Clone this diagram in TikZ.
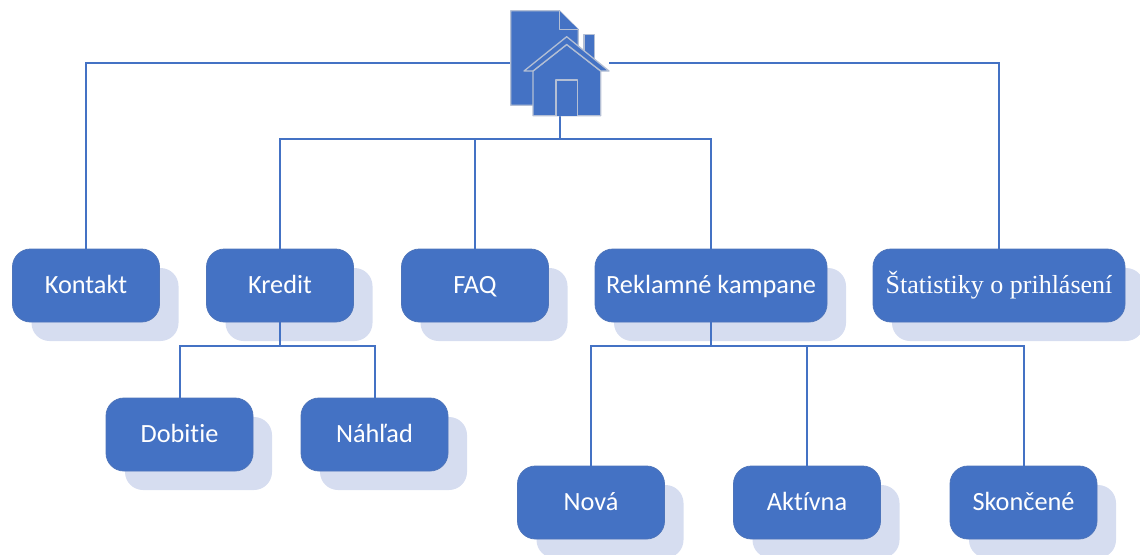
\documentclass[tikz,border=0pt]{standalone}
\usepackage{fontspec}
\setmainfont{Carlito}[Ligatures=CommonOff]
\newfontfamily\serifbox{Liberation Serif}
\usetikzlibrary{shadows}
\definecolor{boxblue}{HTML}{4472C4}
\definecolor{boxshade}{HTML}{D6DDF0}
\definecolor{iconedge}{HTML}{B4BFD4}
\tikzset{
	box/.style={fill=boxblue,draw=boxblue!85!gray,line width=.8pt,rounded corners=18pt,text=white,
		minimum height=73pt,inner sep=0pt,text height=21pt,text depth=5pt,font=\fontsize{26.3}{28}\selectfont,
		copy shadow={shadow xshift=19pt,shadow yshift=-19pt,fill=boxshade,draw=none,opacity=1}},
	link/.style={draw=boxblue,line width=2pt},
	icon/.style={fill=boxblue,draw=iconedge,line width=1.3pt,line join=round}
}
\begin{document}
\begin{tikzpicture}[x=1pt,y=-1pt]
	\useasboundingbox (0,0) rectangle (1140,554);
	\foreach \n/\x/\y/\w/\t in {kontakt/86/285.5/147/Kontakt,kredit/280/285.5/147/Kredit,faq/475/285.5/147/FAQ,
		reklama/711/285.5/232/Reklamné kampane,
		dobitie/179.5/434.5/147/Dobitie,nahlad/374.5/434.5/147/Náhľad,
		nova/591/502.5/147/Nová,aktivna/807/502.5/147/Aktívna,skoncene/1023.5/502.5/147/Skončené}
		\node[box,minimum width=\w pt] (\n) at (\x,\y) {\t};
	\node[box,minimum width=252pt,font=\serifbox\fontsize{26}{28}\selectfont] (statistiky) at (999,285.5) {Štatistiky o prihlásení};
	%icon
	\node[minimum width=99pt,minimum height=105pt,inner sep=0pt] (home) at (559.5,63.2) {};
	\draw[link] (home.west) -| (kontakt.north);
	\draw[link] (home.east) -| (statistiky.north);
	\foreach \n in {kredit,faq,reklama} \draw[link] (home.south) -- ++(0,23.5) -| (\n.north);
	\foreach \n in {dobitie,nahlad} \draw[link] (kredit.south) -- ++(0,24) -| (\n.north);
	\foreach \n in {nova,aktivna,skoncene} \draw[link] (reklama.south) -- ++(0,24) -| (\n.north);
	\draw[icon] (584,34.5) rectangle (594.5,62);
	\draw[icon] (510.7,10.7)--(559.3,10.7)--(578.3,29.5)--(578.3,60)--(560,105.3)--(510.7,105.3)--cycle;
	\draw[icon] (559.3,10.7)--(559.3,29.5)--(578.3,29.5);
	\draw[icon] (533,71)--(533,115.7)--(600.7,115.7)--(600.7,71)--(566.7,44.5)--cycle;
	\draw[icon] (524,71)--(566.7,36.7)--(609,71)--(600.7,71)--(566.7,44.5)--(533,71)--cycle;
	\draw[icon] (556,115.7)--(556,80)--(577.3,80)--(577.3,115.7);
\end{tikzpicture}
\end{document}
